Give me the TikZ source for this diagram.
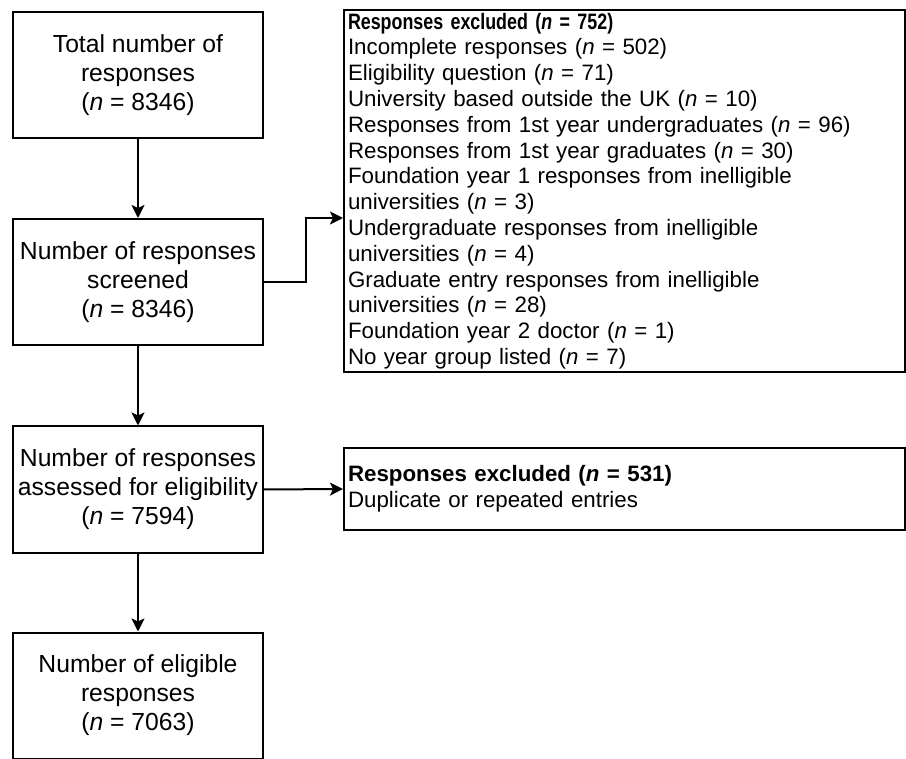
\documentclass[tikz,border=0pt]{standalone}
\usepackage{fontspec}
\setmainfont{Liberation Sans}
\newfontfamily\headface{Liberation Sans}[FakeStretch=0.8]
\usetikzlibrary{arrows.meta}

\newcommand{\boxfont}{\fontsize{12.35}{14.5}\selectfont}
\newcommand{\listfont}{\fontsize{11.15}{12.9}\selectfont\lineskiplimit=-6pt}

\begin{document}
\begin{tikzpicture}[x=0.5pt,y=-0.5pt,
    flowbox/.style={draw, line width=1pt, align=center, minimum width=125pt,
        minimum height=63pt, inner sep=1pt, font=\boxfont},
    listbox/.style={draw, line width=1pt, align=left, text width=276.5pt,
        inner xsep=2pt, inner ysep=1pt, font=\listfont},
    arr/.style={line width=1pt, -{Stealth[length=6.5pt, width=6.5pt, inset=1.5pt]}}]
    \useasboundingbox (0,0) rectangle (906,759);

    % Boxes
    \node[flowbox] (total) at (138,75) {Total number of\\responses\\(\textit{n} = 8346)};
    \node[flowbox] (screen) at (138,282) {Number of responses\\screened\\(\textit{n} = 8346)};
    \node[flowbox] (assess) at (138,489.5) {Number of responses\\assessed for eligibility\\(\textit{n} = 7594)};
    \node[flowbox] (eligible) at (138,695.5) {Number of eligible\\responses\\(\textit{n} = 7063)};

    \node[listbox, minimum height=181pt] (excl1) at (624.5,191) {%
        {\headface\bfseries Responses excluded (\textit{n} = 752)}\\
        Incomplete responses (\textit{n} = 502)\\
        Eligibility question (\textit{n} = 71)\\
        University based outside the UK (\textit{n} = 10)\\
        Responses from 1st year undergraduates (\textit{n} = 96)\\
        Responses from 1st year graduates (\textit{n} = 30)\\
        Foundation year 1 responses from inelligible\\
        universities (\textit{n} = 3)\\
        Undergraduate responses from inelligible\\
        universities (\textit{n} = 4)\\
        Graduate entry responses from inelligible\\
        universities (\textit{n} = 28)\\
        Foundation year 2 doctor (\textit{n} = 1)\\
        No year group listed (\textit{n} = 7)};
    \node[listbox, minimum height=41pt] (excl2) at (624.5,489) {%
        \textbf{Responses excluded (\textit{n} = 531)}\\
        Duplicate or repeated entries};

    % Arrows
    \draw[arr] (total) -- (screen);
    \draw[arr] (screen) -- (assess);
    \draw[arr] (assess) -- (eligible);
    \draw[arr] (screen.east) -- ++(42,0) |- ([yshift=-13.5pt]excl1.west);
    \draw[arr] (assess.east) -- (excl2.west);
\end{tikzpicture}
\end{document}
